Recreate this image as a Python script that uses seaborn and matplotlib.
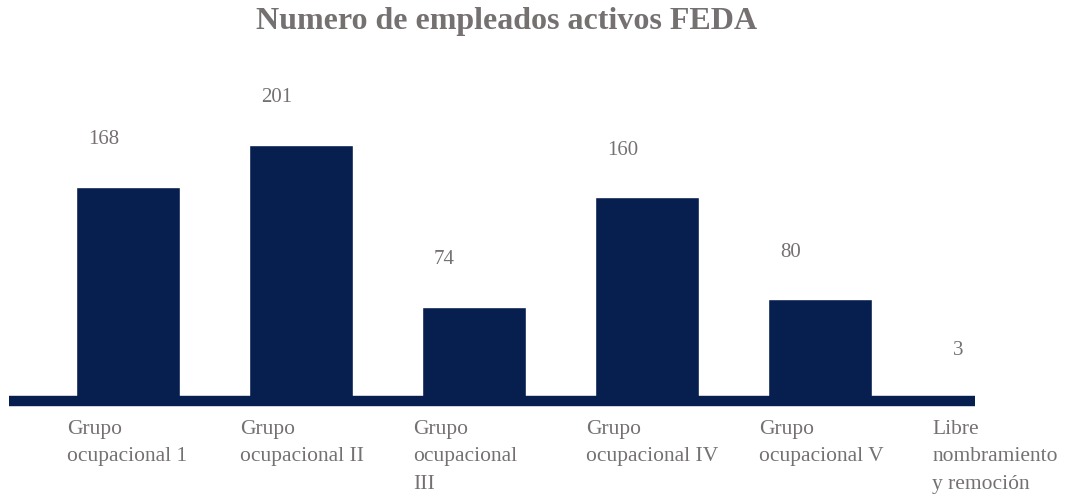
import matplotlib
matplotlib.use("Agg")
import matplotlib.pyplot as plt
import matplotlib.transforms as mtransforms
import pandas as pd
import seaborn as sns

categorias = [
    "Grupo\nocupacional 1",
    "Grupo\nocupacional II",
    "Grupo\nocupacional\nIII",
    "Grupo\nocupacional IV",
    "Grupo\nocupacional V",
    "Libre\nnombramiento\ny remoción",
]
empleados = [168, 201, 74, 160, 80, 3]
titulo = "Numero de empleados activos FEDA"

NAVY = "#061f4f"
GRIS = "#767171"

sns.set_theme(style="white")
plt.rcParams["font.family"] = ["Liberation Serif", "DejaVu Serif"]

df = pd.DataFrame({"categoria": categorias, "empleados": empleados})

fig = plt.figure(figsize=(10.7, 4.97), dpi=100)
# eje hasta x=975 px, la linea base ocupa todo el ancho del eje
ax = fig.add_axes([9 / 1070, 96 / 497, 966 / 1070, 341 / 497])

sns.barplot(data=df, x="categoria", y="empleados", color=NAVY,
            saturation=1, width=0.6, ax=ax)

ax.set_xlim((9 - 127.7) / 173, (975 - 127.7) / 173)
ax.set_ylim(0, 267.7)
ax.axhline(0, color=NAVY, lw=7.5, zorder=5, clip_on=False,
           solid_capstyle="butt")

for s in ax.spines.values():
    s.set_visible(False)
ax.set_xticks([])
ax.set_yticks([])
ax.set_xlabel("")
ax.set_ylabel("")

# etiquetas de valor
for i, v in enumerate(empleados):
    ax.annotate(str(v), (i - 0.23, v), xytext=(0, 27), textcoords="offset points",
                ha="left", va="bottom", fontsize=15, color=GRIS,
                annotation_clip=False)

# etiquetas de categoria, alineadas a la izquierda
trans = mtransforms.blended_transform_factory(ax.transData, ax.transAxes)
for i, c in enumerate(categorias):
    ax.text(i - 0.35, -0.055, c, transform=trans, ha="left", va="top",
            fontsize=15.5, color=GRIS, linespacing=1.6, clip_on=False)

fig.text(507 / 1070, 1 - 22 / 497, titulo, ha="center", va="center",
         fontsize=23, fontweight="bold", color=GRIS)

fig.savefig("out.png", dpi=100)
plt.close(fig)
